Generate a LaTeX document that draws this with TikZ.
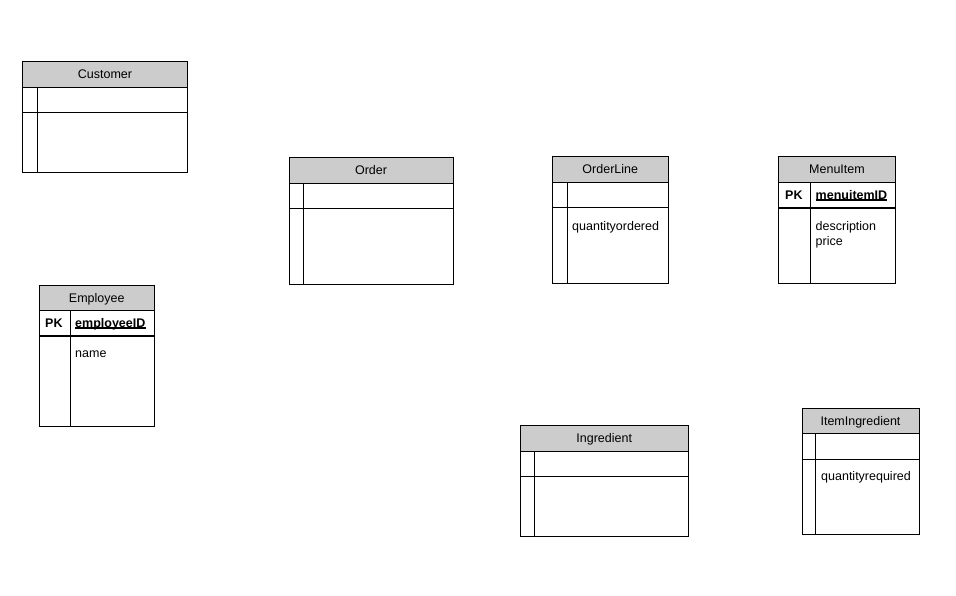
\documentclass[tikz,border=0pt]{standalone}
\usepackage{fontspec}
\setmainfont{Liberation Sans}
\definecolor{headgray}{HTML}{CCCCCC}
\tikzset{
  tbl/.style={draw=black, line width=1pt},
  txt/.style={inner sep=0pt, anchor=base west, font=\fontsize{12.5}{15}\selectfont},
  ttl/.style={inner sep=0pt, anchor=base, font=\fontsize{12.5}{15}\selectfont},
  ulbold/.style={inner sep=0pt, anchor=base west, font=\fontsize{12.5}{15}\selectfont\bfseries},
  uline/.style={line width=1.6pt},
}
\newcommand{\ertable}[9]{%
  \fill[headgray] (#2,#3) rectangle (#4,#6);
  \draw[tbl] (#2,#3) rectangle (#4,#5);
  \draw[tbl] (#2,#6) -- (#4,#6);
  \draw[tbl] (#2,#7) -- (#4,#7);
  \draw[tbl] (#8,#6) -- (#8,#5);
  \node[ttl] (#1-title) at ({(#2+#4)/2},{#6-8.5}) {#9};
}
\begin{document}
\begin{tikzpicture}[x=1pt,y=-1pt]
\useasboundingbox[fill=white] (0,0) rectangle (956,596);
\ertable{cust}{22.5}{62}{187.5}{172.5}{87.5}{113}{37}{Customer}
\ertable{order}{289}{158}{453}{284.5}{183.5}{209}{303}{Order}
\ertable{ol}{552.5}{157}{668}{283.5}{182.5}{208}{567}{OrderLine}
\ertable{mi}{778.5}{157}{895.5}{283.5}{182.5}{208}{810}{MenuItem}
\ertable{emp}{39}{285.5}{154.5}{426}{310.5}{336}{70}{Employee}
\ertable{ing}{520.5}{425.5}{688}{536}{451}{476.5}{534}{Ingredient}
\ertable{ii}{802}{408}{919}{534.5}{433.5}{459}{815.5}{ItemIngredient}
% PK rows
\draw[line width=1.4pt] (39,336) -- (154.5,336);
\draw[line width=1.4pt] (778.5,208) -- (895.5,208);
% texts
\node[ulbold] (emp-pk) at (45,327.5) {PK};
\node[ulbold] (emp-id) at (75,327.5) {employeeID};
\draw[uline] ([yshift=-0.3pt]emp-id.base west) -- ([yshift=-0.3pt]emp-id.base east);
\node[txt] (emp-name) at (75,357) {name};
\node[ulbold] (mi-pk) at (785,199.5) {PK};
\node[ulbold] (mi-id) at (815.5,199.5) {menuitemID};
\draw[uline] ([yshift=-0.3pt]mi-id.base west) -- ([yshift=-0.3pt]mi-id.base east);
\node[txt] (mi-desc) at (815.5,230.5) {description};
\node[txt] (mi-price) at (815.5,245.5) {price};
\node[txt] (ol-qty) at (572,230.5) {quantityordered};
\node[txt] (ii-qty) at (821,480.5) {quantityrequired};
\end{tikzpicture}
\end{document}
